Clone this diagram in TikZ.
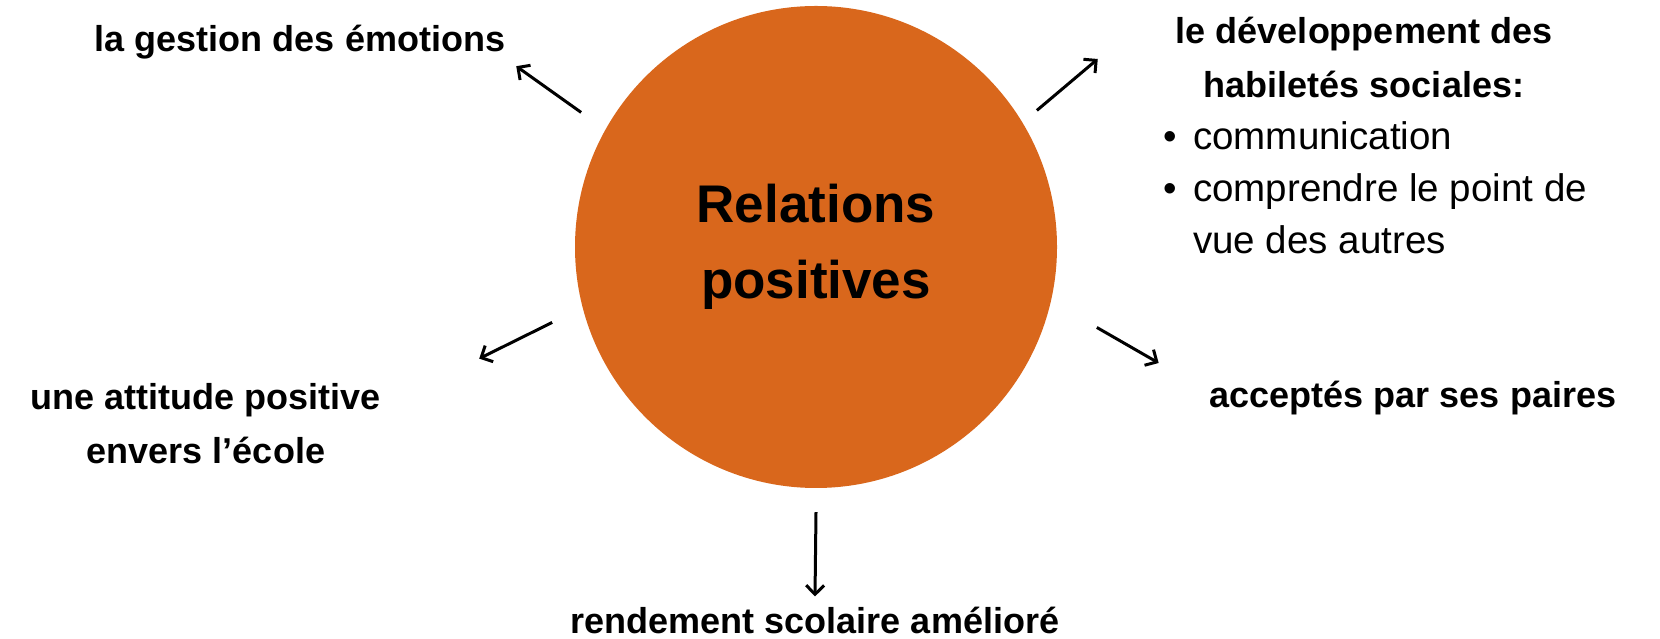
\documentclass[tikz,border=0pt]{standalone}
\usepackage{fontspec}
\setmainfont{Liberation Sans}
\usepackage{tikz}
\usetikzlibrary{shapes.geometric,arrows.meta,positioning}
\definecolor{relorange}{HTML}{D9671C}
\tikzset{
  hub/.style={circle,fill=relorange,inner sep=0pt,minimum size=482pt,
    align=center,font=\bfseries\fontsize{53}{76}\selectfont},
  effet/.style={inner sep=0pt,align=center,font=\bfseries\fontsize{36}{54}\selectfont},
  liste/.style={inner sep=0pt,align=left,font=\fontsize{38.5}{52}\selectfont},
  fleche/.style={line width=3pt,-{Straight Barb[length=9pt,width=18pt]}}
}
\newcommand{\puce}{\makebox[30pt][l]{\textbullet}}

\begin{document}
\begin{tikzpicture}[x=1pt,y=1pt]
%
\useasboundingbox (0,0) rectangle (1660,639);
%
\node[hub] (rel) at (816,392) {Relations\\positives};
%
\node[effet] (emo) at (300,597) {la gestion des émotions};
\node[effet] (social) at (1364,582) {le développement des\\habiletés sociales:};
\node[liste,anchor=west] (sociallist) at (1163,451)
  {\puce communication\\\puce comprendre le point de\\\hspace*{30pt}vue des autres};
\node[effet] (attitude) at (206,215) {une attitude positive\\envers l’école};
\node[effet] (accepte) at (1413,241) {acceptés par ses paires};
\node[effet] (rendement) at (815,19) {rendement scolaire amélioré};
%
\draw[fleche] ([shift={(-26,14)}]rel.150) -- ([shift={(11,-7)}]emo.south east);
\draw[fleche] ([shift={(12,16)}]rel.30) -- ([shift={(-78,-2)}]social.west);
\draw[fleche] ([shift={(-32,-9)}]rel.196) -- ([shift={(98,25)}]attitude.north east);
\draw[fleche] ([shift={(49,-14)}]rel.-16) -- ([shift={(-51,35)}]accepte.west);
\draw[fleche] ([shift={(0,-24)}]rel.south) -- ([shift={(0,10)}]rendement.north);
%
\end{tikzpicture}
\end{document}
